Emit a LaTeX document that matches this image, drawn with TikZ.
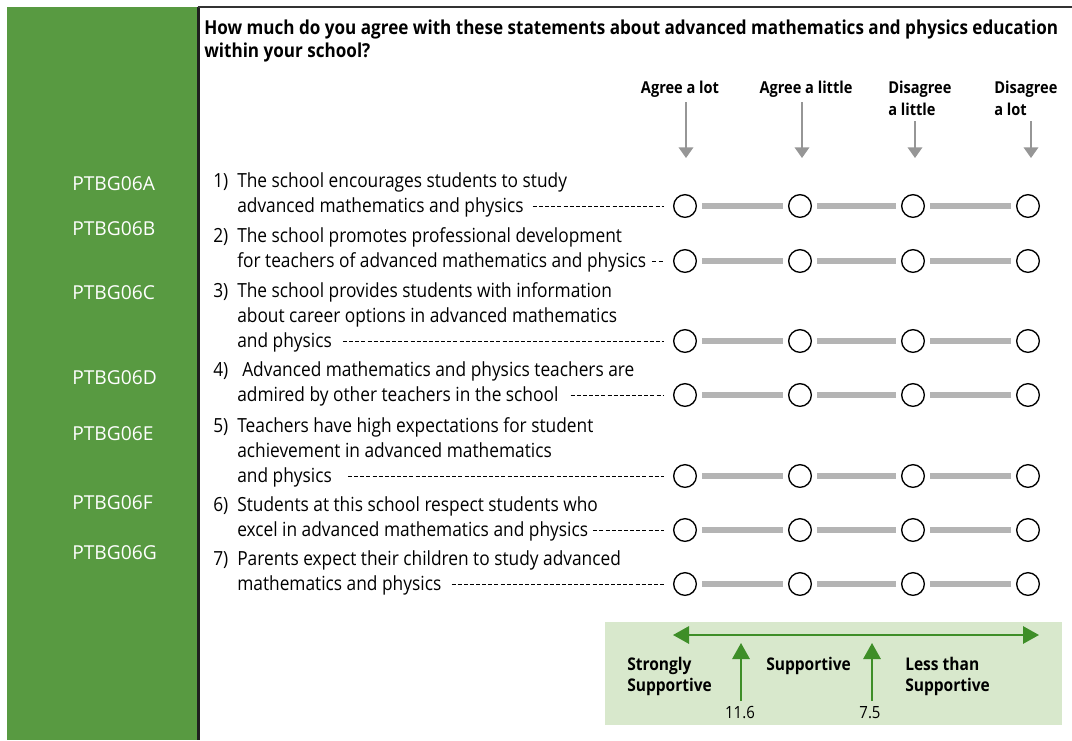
\documentclass[tikz,border=0pt]{standalone}
\usepackage{fontspec}
\setmainfont{Open Sans}[FakeStretch=0.89]
\newfontfamily\labfont{Open Sans}
\usetikzlibrary{arrows.meta,calc}
\definecolor{panelgreen}{RGB}{88,154,65}
\definecolor{legendfill}{RGB}{216,232,204}
\definecolor{arrowgreen}{RGB}{62,142,40}
\definecolor{bargray}{RGB}{180,180,180}
\definecolor{arrowgray}{RGB}{150,150,150}
\begin{document}
\begin{tikzpicture}[x=0.75pt,y=-0.75pt,
  txt/.style={anchor=base west,inner sep=0pt,font=\fontsize{14.6}{17}\selectfont},
  qtitle/.style={anchor=base west,inner sep=0pt,font=\bfseries\fontsize{14.4}{17}\selectfont},
  head/.style={anchor=base west,inner sep=0pt,font=\bfseries\fontsize{12.3}{14}\selectfont},
  lab/.style={anchor=base west,inner sep=0pt,text=white,font=\labfont\fontsize{14.4}{17}\selectfont},
  legb/.style={anchor=base west,inner sep=0pt,font=\bfseries\fontsize{13.1}{15}\selectfont},
  legn/.style={anchor=base,inner sep=0pt,font=\fontsize{12.6}{15}\selectfont},
  opt/.style={circle,draw=black,line width=1pt,minimum size=17pt,inner sep=0pt},
  bar/.style={bargray,line width=3.8pt,shorten <=13.1pt,shorten >=13.1pt},
  dashline/.style={line width=0.7pt,dash pattern=on 3pt off 1.6pt},
  garrow/.style={arrowgray,line width=1.1pt,-{Triangle[width=11pt,length=8pt]}},
  greenarrow/.style={arrowgreen,line width=1.5pt,-{Triangle[width=13pt,length=12pt]}},
  greendouble/.style={arrowgreen,line width=1.5pt,{Triangle[width=13pt,length=12pt]}-{Triangle[width=13pt,length=12pt]}}
]
\useasboundingbox (0,0) rectangle (1072,740);
% left panel and frame
\fill[panelgreen] (7,7) rectangle (197,740);
\draw[line width=2.2pt,black!88] (198.5,6.5) -- (198.5,740);
\draw[line width=1.6pt,black!80] (197.5,7) -- (1072,7);

% title
\node[qtitle] (q1) at (204,34) {How much do you agree with these statements about advanced mathematics and physics education};
\node[qtitle] (q2) at (204,57) {within your school?};

% column headers
\node[head,anchor=base] (h1) at (680,93) {Agree a lot};
\node[head,anchor=base] (h2) at (806,93) {Agree a little};
\node[head] (h3) at (888,93) {Disagree};
\node[head] (h3b) at (888,115) {a little};
\node[head] (h4) at (994,93) {Disagree};
\node[head] (h4b) at (994,115) {a lot};

\coordinate (a1s) at (686,102); \coordinate (a1e) at (686,158);
\coordinate (a2s) at (802,102); \coordinate (a2e) at (802,158);
\coordinate (a3s) at (915,121); \coordinate (a3e) at (915,158);
\coordinate (a4s) at (1031,121); \coordinate (a4e) at (1031,158);
\draw[garrow] (a1s) -- (a1e);
\draw[garrow] (a2s) -- (a2e);
\draw[garrow] (a3s) -- (a3e);
\draw[garrow] (a4s) -- (a4e);

% left labels
\node[lab] (p1) at (72,190) {PTBG06A};
\node[lab] (p2) at (72,235) {PTBG06B};
\node[lab] (p3) at (72,299) {PTBG06C};
\node[lab] (p4) at (72,384) {PTBG06D};
\node[lab] (p5) at (72,440) {PTBG06E};
\node[lab] (p6) at (72,509) {PTBG06F};
\node[lab] (p7) at (72,559) {PTBG06G};

% option circles and bars
\foreach \r/\y in {1/206,2/261,3/341,4/395,5/476,6/530,7/584}{
  \node[opt] (c\r1) at (685,\y) {};
  \node[opt] (c\r2) at (800,\y) {};
  \node[opt] (c\r3) at (913,\y) {};
  \node[opt] (c\r4) at (1028,\y) {};
  \draw[bar] (c\r1.center) -- (c\r2.center);
  \draw[bar] (c\r2.center) -- (c\r3.center);
  \draw[bar] (c\r3.center) -- (c\r4.center);
}

% items
\node[txt] (n1) at (213,187) {1)};
\node[txt] (t1a) at (237,187) {The school encourages students to study};
\node[txt] (t1) at (237,212) {advanced mathematics and physics};
\node[txt] (n2) at (213,242) {2)};
\node[txt] (t2a) at (237,242) {The school promotes professional development};
\node[txt] (t2) at (237,267) {for teachers of advanced mathematics and physics};
\node[txt] (n3) at (213,297) {3)};
\node[txt] (t3a) at (237,297) {The school provides students with information};
\node[txt] (t3b) at (237,322) {about career options in advanced mathematics};
\node[txt] (t3) at (237,347) {and physics};
\node[txt] (n4) at (213,376) {4)};
\node[txt] (t4a) at (242,376) {Advanced mathematics and physics teachers are};
\node[txt] (t4) at (237,401) {admired by other teachers in the school};
\node[txt] (n5) at (213,432) {5)};
\node[txt] (t5a) at (237,432) {Teachers have high expectations for student};
\node[txt] (t5b) at (237,457) {achievement in advanced mathematics};
\node[txt] (t5) at (237,482) {and physics};
\node[txt] (n6) at (213,511) {6)};
\node[txt] (t6a) at (237,511) {Students at this school respect students who};
\node[txt] (t6) at (237,536) {excel in advanced mathematics and physics};
\node[txt] (n7) at (213,565) {7)};
\node[txt] (t7a) at (237,565) {Parents expect their children to study advanced};
\node[txt] (t7) at (237,590) {mathematics and physics};

\foreach \r/\g in {1/9,2/6,3/11,4/12,5/16,6/5,7/10}{
  \draw[dashline] ($(t\r.base east |- c\r1.center)+(\g,0)$) -- ($(c\r1.center)+(-21,0)$);
}

% legend
\fill[legendfill] (605,622) rectangle (1062,725);
\coordinate (la) at (673,635); \coordinate (lb) at (1039,635);
\draw[greendouble] (la) -- (lb);
\coordinate (u1s) at (741,701); \coordinate (u1e) at (741,643);
\coordinate (u2s) at (872,701); \coordinate (u2e) at (872,643);
\draw[greenarrow] (u1s) -- (u1e);
\draw[greenarrow] (u2s) -- (u2e);
\node[legb] (l1) at (627,670) {Strongly};
\node[legb] (l1b) at (627,691) {Supportive};
\node[legb] (l2) at (766,670) {Supportive};
\node[legb] (l3) at (905,670) {Less than};
\node[legb] (l3b) at (905,691) {Supportive};
\node[legn] (v1) at (740,718) {11.6};
\node[legn] (v2) at (870,718) {7.5};
\end{tikzpicture}
\end{document}
